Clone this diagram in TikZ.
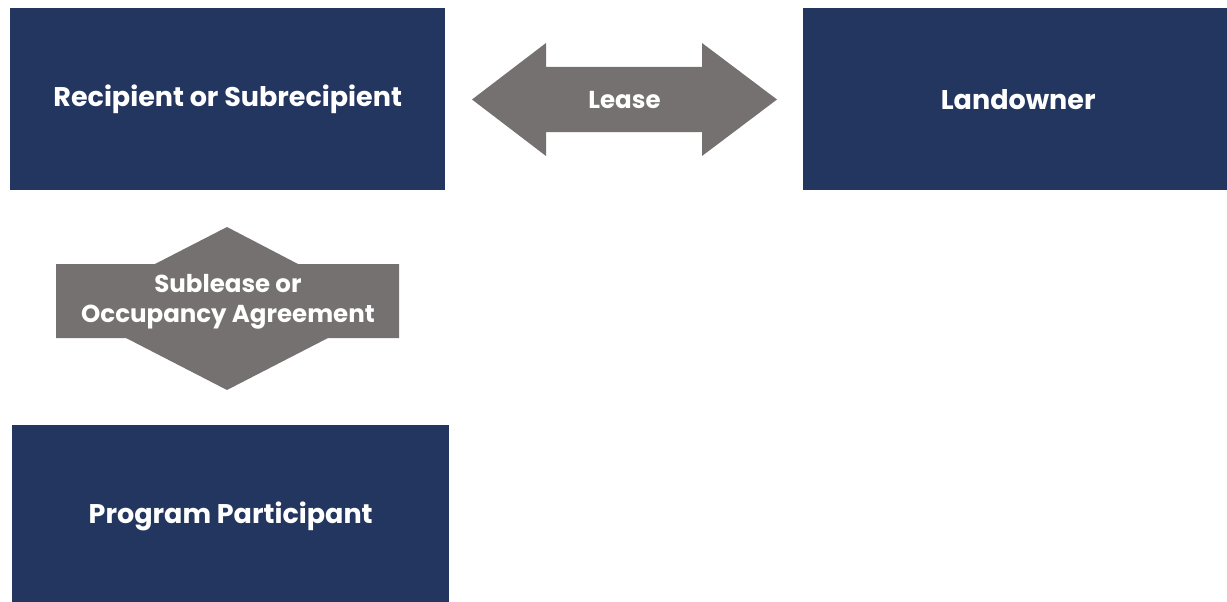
\documentclass[tikz,border=0pt]{standalone}
\usepackage{fontspec}
\setmainfont{Poppins}
\usetikzlibrary{calc}

\definecolor{navy}{HTML}{233660}
\definecolor{slate}{HTML}{767171}

\begin{document}
\begin{tikzpicture}[x=1pt, y=-1pt,
  party/.style={fill=navy, text=white, inner sep=0pt, anchor=north west,
    font=\fontsize{27}{32}\selectfont\bfseries},
  deal/.style={text=white, inner sep=0pt, align=center,
    font=\fontsize{24.5}{30}\selectfont\bfseries}]

\useasboundingbox (0,0) rectangle (1227,602);

% the three parties
\node[party, minimum width=435pt, minimum height=182pt] (recip) at (10,8) {Recipient or Subrecipient};
\node[party, minimum width=430pt, minimum height=182pt] (land) at (803,8) {Landowner};
\node[party, minimum width=437pt, minimum height=182pt] (part) at (12,425) {Program Participant};

% lease: two-headed arrow between recipient and landowner
\fill[slate] (472,99.5) -- (546,43) -- (546,67) -- (702,67) -- (702,43) -- (777,99.5)
  -- (702,156) -- (702,132) -- (546,132) -- (546,156) -- cycle;
\node[deal] (lease) at (624.5,100) {Lease};

% sublease: wide box with a point above and below
\fill[slate] (56,264) -- (155,264) -- (227,227) -- (298,264) -- (399,264) -- (399,338)
  -- (328,338) -- (227,390) -- (126,338) -- (56,338) -- cycle;
\node[deal] (sub) at (228,302) {Sublease or\\Occupancy Agreement};
\end{tikzpicture}
\end{document}
